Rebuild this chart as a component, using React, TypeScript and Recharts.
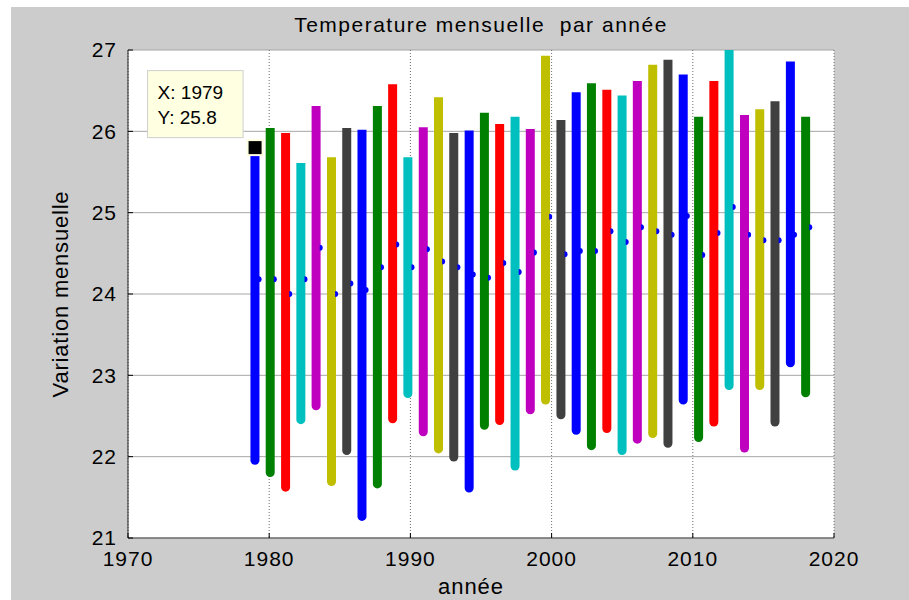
import React from "react";
import {
  ComposedChart,
  Bar,
  Scatter,
  Cell,
  XAxis,
  YAxis,
  CartesianGrid,
  ReferenceDot,
} from "recharts";

// x positions of the 37 yearly bars (as drawn on the year axis)
const years = [
  1979, 1980.08, 1981.17, 1982.25, 1983.33, 1984.42, 1985.5, 1986.58, 1987.67,
  1988.75, 1989.83, 1990.92, 1992, 1993.08, 1994.17, 1995.25, 1996.33, 1997.42,
  1998.5, 1999.58, 2000.67, 2001.75, 2002.83, 2003.92, 2005, 2006.08, 2007.17,
  2008.25, 2009.33, 2010.42, 2011.5, 2012.58, 2013.67, 2014.75, 2015.83, 2016.92,
  2018,
];

const maxT = [
  25.8, 26.04, 25.98, 25.61, 26.31, 25.68, 26.04, 26.02, 26.31, 26.58, 25.68,
  26.05, 26.42, 25.98, 26.01, 26.23, 26.09, 26.18, 26.03, 26.93, 26.14, 26.48,
  26.59, 26.51, 26.44, 26.62, 26.82, 26.88, 26.7, 26.18, 26.62, 27.1, 26.2,
  26.27, 26.37, 26.86, 26.18,
];

const minT = [
  21.9, 21.75, 21.57, 22.4, 22.57, 21.64, 22.02, 21.21, 21.61, 22.41, 22.72,
  22.25, 22.04, 21.94, 21.56, 22.33, 22.39, 21.83, 22.52, 22.64, 22.46, 22.27,
  22.08, 22.29, 22.02, 22.16, 22.23, 22.11, 22.64, 22.18, 22.37, 22.82, 22.05,
  22.82, 22.37, 23.1, 22.73,
];

const meanT = [
  24.18, 24.18, 24.0, 24.18, 24.57, 24.0, 24.13, 24.05, 24.33, 24.61, 24.33,
  24.55, 24.4, 24.33, 24.24, 24.2, 24.38, 24.27, 24.51, 24.95, 24.49, 24.53,
  24.53, 24.77, 24.64, 24.82, 24.77, 24.73, 24.96, 24.48, 24.75, 25.07, 24.73,
  24.66, 24.66, 24.73, 24.82,
];

const xTicks = [1970, 1980, 1990, 2000, 2010, 2020];
const yTicks = [21, 22, 23, 24, 25, 26, 27];

// matlab color order b g r c m y k
const colorOrder = ["#0000ff", "#008000", "#ff0000", "#00bfbf", "#bf00bf", "#bfbf00", "#404040"];

const data = years.map((x, i) => ({
  x,
  range: [minT[i], maxT[i]],
  mean: meanT[i],
}));

const font = "'Liberation Sans', Arial, sans-serif";
const tickStyle = { fontSize: 21, fill: "#000", fontFamily: font, letterSpacing: 1 };

// mean marker sits behind the bar in the original, only its right half shows
const MeanDot = (props: any) => {
  const { cx, cy } = props;
  if (cx == null || cy == null) return null;
  const x0 = cx + 3.5;
  return <path d={`M${x0},${cy - 3} A3,3 0 0 1 ${x0},${cy + 3} Z`} fill="#0000ff" />;
};

const DataTip = (props: any) => {
  const { cx, cy } = props;
  if (cx == null || cy == null) return null;
  return (
    <g>
      <rect x={cx - 107.5} y={cy - 77} width={95.5} height={67} fill="#ffffe1" stroke="#cfcfcf" />
      <text x={cx - 97.5} y={cy - 48.5} fontSize={19} fontFamily={font} fill="#000">
        {`X: ${years[0]}`}
      </text>
      <text x={cx - 97.5} y={cy - 23.5} fontSize={19} fontFamily={font} fill="#000">
        {`Y: ${maxT[0]}`}
      </text>
      <rect x={cx - 8.5} y={cy - 8.5} width={17} height={17} fill="#ffffe1" />
      <rect x={cx - 6.5} y={cy - 6.5} width={13} height={13} fill="#000" />
    </g>
  );
};

export default function App() {
  return (
    <div
      style={{
        position: "fixed",
        left: 0,
        top: 0,
        width: 909,
        height: 600,
        background: "#fff",
        overflow: "hidden",
      }}
    >
      <div
        style={{ position: "absolute", left: 11, top: 7, right: 0, bottom: 0, background: "#cccccc" }}
      />
      <div style={{ position: "absolute", left: 0, top: 0 }}>
        <ComposedChart
          width={909}
          height={600}
          data={data}
          margin={{ top: 50, right: 75, bottom: 32, left: 68 }}
        >
          <CartesianGrid
            vertical={false}
            stroke="#a6a6a6"
            fill="#ffffff"
            xAxisId="bottom"
            yAxisId="left"
          />
          <CartesianGrid
            horizontal={false}
            stroke="#6e6e6e"
            strokeDasharray="1 2"
            xAxisId="bottom"
            yAxisId="left"
          />
          <XAxis
            xAxisId="bottom"
            dataKey="x"
            type="number"
            domain={[1970, 2020]}
            ticks={xTicks}
            interval={0}
            height={30}
            tick={tickStyle}
            tickSize={-5}
            tickMargin={18}
            tickLine={{ stroke: "#000" }}
            axisLine={{ stroke: "#4a4a4a" }}
          />
          <XAxis
            xAxisId="top"
            orientation="top"
            type="number"
            domain={[1970, 2020]}
            ticks={xTicks}
            interval={0}
            height={0}
            tickFormatter={() => ""}
            tickSize={-5}
            tickLine={{ stroke: "#000" }}
            axisLine={{ stroke: "#777", strokeDasharray: "3 2" }}
          />
          <YAxis
            yAxisId="left"
            type="number"
            domain={[21, 27]}
            ticks={yTicks}
            interval={0}
            allowDataOverflow
            width={60}
            tick={tickStyle}
            tickSize={-5}
            tickMargin={16}
            tickLine={{ stroke: "#000" }}
            axisLine={{ stroke: "#222" }}
          />
          <YAxis
            yAxisId="right"
            orientation="right"
            type="number"
            domain={[21, 27]}
            ticks={yTicks}
            interval={0}
            width={0}
            tickFormatter={() => ""}
            tickSize={-5}
            tickLine={{ stroke: "#000" }}
            axisLine={{ stroke: "#555", strokeDasharray: "1 1" }}
          />
          <Scatter
            xAxisId="bottom"
            yAxisId="left"
            dataKey="mean"
            shape={<MeanDot />}
            isAnimationActive={false}
          />
          <Bar
            xAxisId="bottom"
            yAxisId="left"
            dataKey="range"
            barSize={9}
            radius={[0, 0, 4.5, 4.5]}
            isAnimationActive={false}
          >
            {data.map((d, i) => (
              <Cell key={d.x} fill={colorOrder[i % colorOrder.length]} />
            ))}
          </Bar>
          <ReferenceDot
            xAxisId="bottom"
            yAxisId="left"
            x={years[0]}
            y={maxT[0]}
            shape={<DataTip />}
          />
        </ComposedChart>
      </div>
      <div
        style={{
          position: "absolute",
          left: 481,
          top: 13,
          transform: "translateX(-50%)",
          whiteSpace: "pre",
          fontFamily: font,
          fontSize: 21,
          letterSpacing: 1.5,
          color: "#000",
        }}
      >
        {"Temperature mensuelle  par année"}
      </div>
      <div
        style={{
          position: "absolute",
          left: 61,
          top: 294,
          transform: "translate(-50%, -50%) rotate(-90deg)",
          whiteSpace: "pre",
          fontFamily: font,
          fontSize: 22,
          letterSpacing: 0.8,
          color: "#000",
        }}
      >
        Variation mensuelle
      </div>
      <div
        style={{
          position: "absolute",
          left: 471,
          top: 574,
          transform: "translateX(-50%)",
          whiteSpace: "pre",
          fontFamily: font,
          fontSize: 22,
          letterSpacing: 1,
          color: "#000",
        }}
      >
        année
      </div>
    </div>
  );
}
